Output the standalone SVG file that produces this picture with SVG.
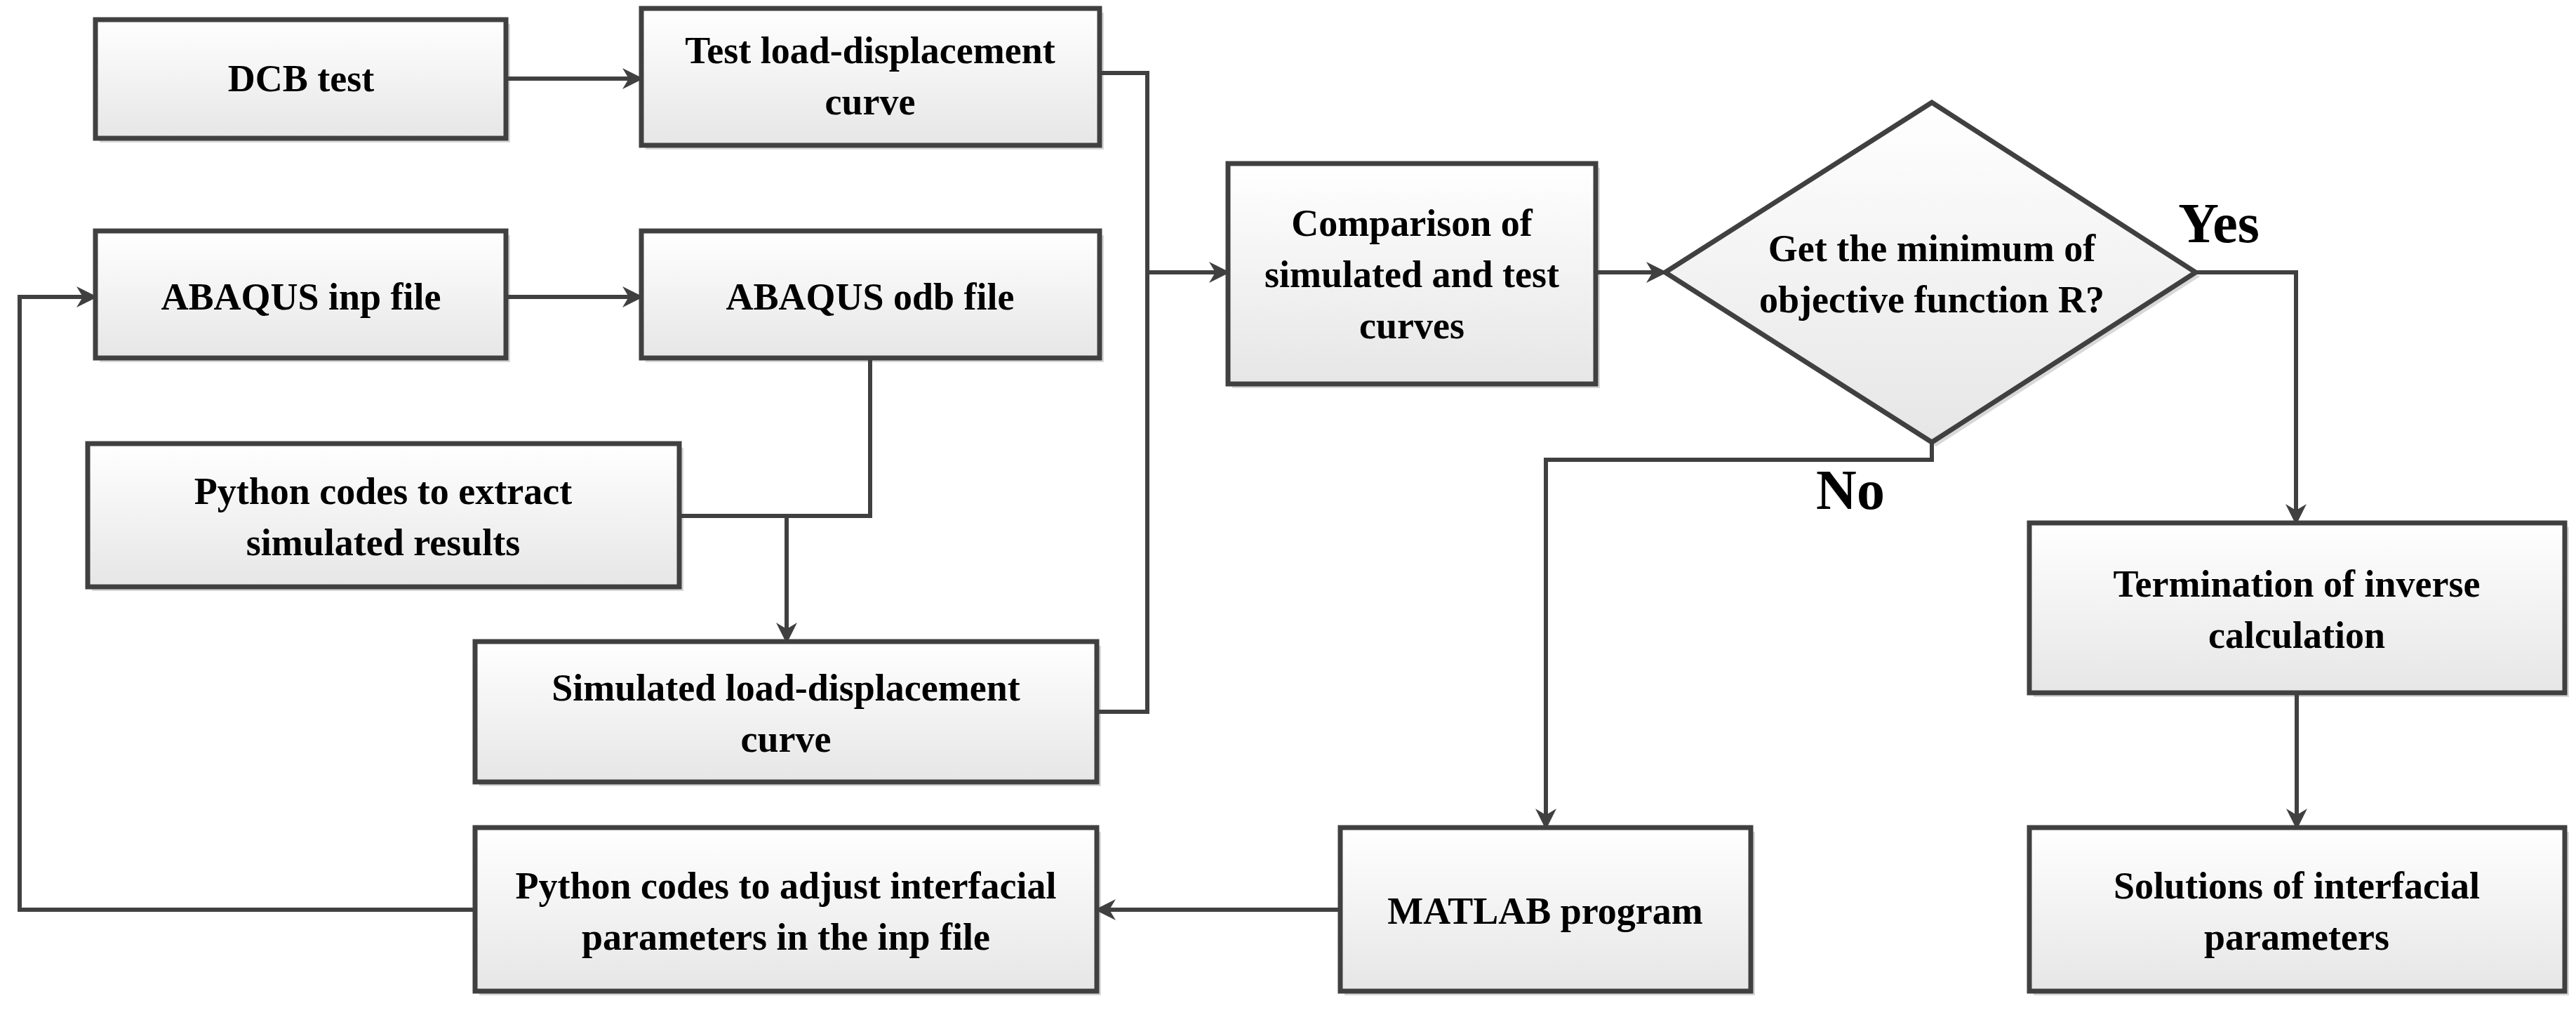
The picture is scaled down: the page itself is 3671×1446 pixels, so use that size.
<svg xmlns="http://www.w3.org/2000/svg" width="3671" height="1446" viewBox="0 0 3671 1446">
<style>
.n{fill:url(#g);stroke:#404040;stroke-width:7}
.s{fill:#d8d8d8}
.t{font-family:"Liberation Serif",serif;font-weight:bold;font-size:54px;fill:#000;text-anchor:middle}
.l{font-family:"Liberation Serif",serif;font-weight:bold;font-size:80px;fill:#000;text-anchor:middle}
.c{fill:none;stroke:#404040;stroke-width:6}
</style>
<defs>
<linearGradient id="g" x1="0" y1="0" x2="0" y2="1"><stop offset="0" stop-color="#ffffff"/><stop offset="1" stop-color="#e6e6e6"/></linearGradient>
<marker id="a" markerWidth="10" markerHeight="10" refX="9" refY="5" orient="auto" markerUnits="userSpaceOnUse" viewBox="0 0 10 10"><path d="M0,0 L10,5 L0,10 L3,5 z" fill="#404040"/></marker>
<marker id="b" viewBox="0 0 10 10" refX="9" refY="5" markerWidth="30" markerHeight="30" orient="auto" markerUnits="userSpaceOnUse"><path d="M0,0 L10,5 L0,10 L3,5 z" fill="#404040"/></marker>
</defs>
<rect width="3671" height="1446" fill="#fff"/>
<g id="dcb"><rect class="s" x="142" y="34" width="585" height="169"/><rect class="n" x="136" y="28" width="585" height="169"/><text class="t" x="429" y="130">DCB test</text></g>
<g id="testcurve"><rect class="s" x="920" y="18" width="653" height="195"/><rect class="n" x="914" y="12" width="653" height="195"/><text class="t" x="1240" y="90">Test load-displacement</text><text class="t" x="1240" y="163">curve</text></g>
<g id="inp"><rect class="s" x="142" y="335" width="585" height="181"/><rect class="n" x="136" y="329" width="585" height="181"/><text class="t" x="429" y="441">ABAQUS inp file</text></g>
<g id="odb"><rect class="s" x="920" y="335" width="653" height="181"/><rect class="n" x="914" y="329" width="653" height="181"/><text class="t" x="1240" y="441">ABAQUS odb file</text></g>
<g id="pyext"><rect class="s" x="131" y="638" width="843" height="204"/><rect class="n" x="125" y="632" width="843" height="204"/><text class="t" x="546" y="718">Python codes to extract</text><text class="t" x="546" y="791">simulated results</text></g>
<g id="sim"><rect class="s" x="683" y="920" width="886" height="200"/><rect class="n" x="677" y="914" width="886" height="200"/><text class="t" x="1120" y="998">Simulated load-displacement</text><text class="t" x="1120" y="1071">curve</text></g>
<g id="pyadj"><rect class="s" x="683" y="1185" width="886" height="233"/><rect class="n" x="677" y="1179" width="886" height="233"/><text class="t" x="1120" y="1280">Python codes to adjust interfacial</text><text class="t" x="1120" y="1353">parameters in the inp file</text></g>
<g id="comp"><rect class="s" x="1756" y="239" width="524" height="314"/><rect class="n" x="1750" y="233" width="524" height="314"/><text class="t" x="2012" y="336">Comparison of</text><text class="t" x="2012" y="409">simulated and test</text><text class="t" x="2012" y="482">curves</text></g>
<g id="dec"><polygon class="s" points="2379,394 2759,152 3135,394 2759,636"/><polygon class="n" points="2373,388 2753,146 3129,388 2753,630"/><text class="t" x="2753" y="372">Get the minimum of</text><text class="t" x="2753" y="445">objective function R?</text></g>
<g id="term"><rect class="s" x="2898" y="751" width="763" height="242"/><rect class="n" x="2892" y="745" width="763" height="242"/><text class="t" x="3273" y="850">Termination of inverse</text><text class="t" x="3273" y="923">calculation</text></g>
<g id="sol"><rect class="s" x="2898" y="1185" width="763" height="233"/><rect class="n" x="2892" y="1179" width="763" height="233"/><text class="t" x="3273" y="1280">Solutions of interfacial</text><text class="t" x="3273" y="1353">parameters</text></g>
<g id="matlab"><rect class="s" x="1916" y="1185" width="585" height="233"/><rect class="n" x="1910" y="1179" width="585" height="233"/><text class="t" x="2202" y="1316">MATLAB program</text></g>
<g id="connectors">
<path class="c" marker-end="url(#b)" d="M721,112 H914"/>
<path class="c" d="M1567,104 H1635 V1014 H1563"/>
<path class="c" marker-end="url(#b)" d="M1635,388 H1750"/>
<path class="c" marker-end="url(#b)" d="M721,423 H914"/>
<path class="c" d="M1240,510 V735 H968"/>
<path class="c" marker-end="url(#b)" d="M1121,735 V914"/>
<path class="c" marker-end="url(#b)" d="M677,1296 H28 V423 H136"/>
<path class="c" marker-end="url(#b)" d="M2274,388 H2373"/>
<path class="c" marker-end="url(#b)" d="M3129,388 H3272 V745"/>
<path class="c" marker-end="url(#b)" d="M2753,630 V655 H2203 V1179"/>
<path class="c" marker-end="url(#b)" d="M1910,1296 H1563"/>
<path class="c" marker-end="url(#b)" d="M3273,987 V1179"/>
</g>
<text class="l" x="3162" y="345">Yes</text>
<text class="l" x="2637" y="725">No</text>
</svg>
